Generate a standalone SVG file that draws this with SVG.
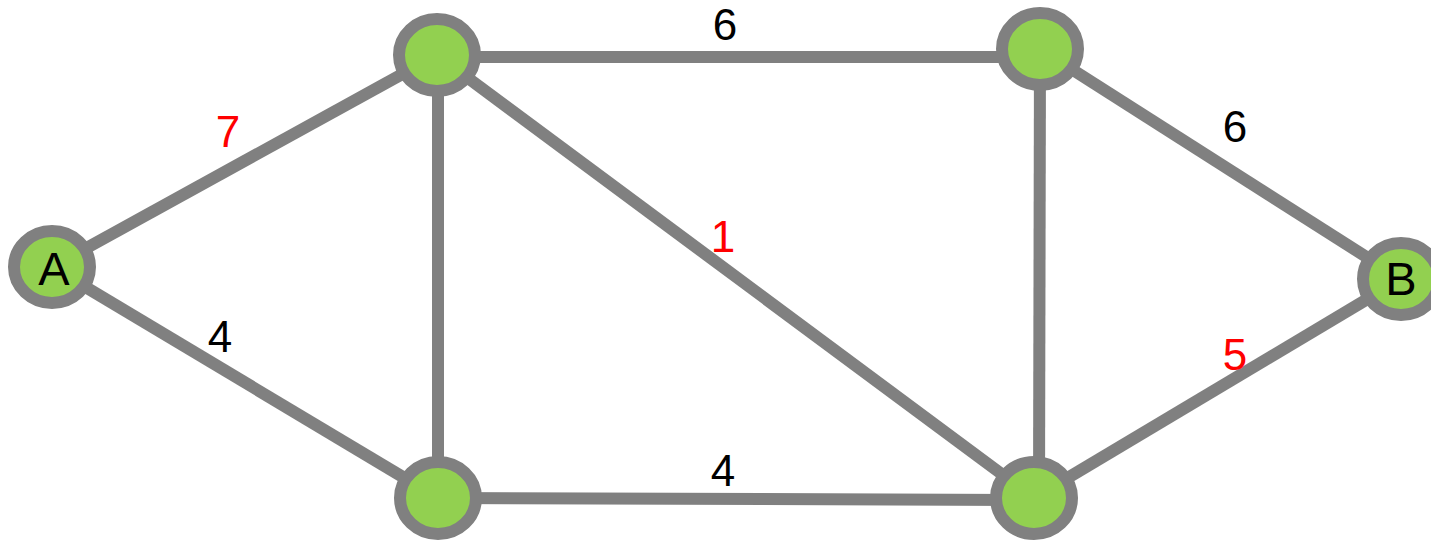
<svg xmlns="http://www.w3.org/2000/svg" width="1431" height="541" viewBox="0 0 1431 541">
<style>
.e{stroke:#808080;stroke-width:12;fill:none}
.n{fill:#92D050;stroke:#808080;stroke-width:12}
.t{font-family:"Liberation Sans",Arial,sans-serif;font-size:44px;text-anchor:middle;fill:#000}
.r{fill:#FF0000}
.l{font-family:"Liberation Sans",Arial,sans-serif;font-size:47px;text-anchor:middle;fill:#000}
</style>
<rect width="1431" height="541" fill="#fff"/>
<g id="edges">
<line class="e" x1="52" y1="267" x2="437" y2="55"/>
<line class="e" x1="52" y1="267" x2="438" y2="498"/>
<line class="e" x1="437" y1="57" x2="1040" y2="57"/>
<line class="e" x1="438" y1="55" x2="438" y2="498"/>
<line class="e" x1="437" y1="55" x2="1034" y2="498"/>
<line class="e" x1="438" y1="498" x2="1034" y2="500"/>
<line class="e" x1="1040" y1="49" x2="1039" y2="498"/>
<line class="e" x1="1040" y1="49" x2="1401" y2="279"/>
<line class="e" x1="1034" y1="498" x2="1401" y2="279"/>
<text class="t r" x="228" y="147">7</text>
<text class="t" x="220" y="352">4</text>
<text class="t" x="725" y="40">6</text>
<text class="t r" x="723" y="252">1</text>
<text class="t" x="723" y="486">4</text>
<text class="t" x="1235" y="142">6</text>
<text class="t r" x="1235" y="370">5</text>
</g>
<g id="nodeA"><ellipse class="n" cx="52" cy="267" rx="38" ry="36"/><text class="l" x="54" y="285">A</text></g>
<g id="nodeTL"><ellipse class="n" cx="437" cy="55" rx="38" ry="36"/></g>
<g id="nodeTR"><ellipse class="n" cx="1040" cy="49" rx="38" ry="36"/></g>
<g id="nodeBL"><ellipse class="n" cx="438" cy="498" rx="38" ry="36"/></g>
<g id="nodeBR"><ellipse class="n" cx="1034" cy="498" rx="38" ry="36"/></g>
<g id="nodeB"><ellipse class="n" cx="1401" cy="279" rx="38" ry="36"/><text class="l" x="1401" y="295">B</text></g>
</svg>
